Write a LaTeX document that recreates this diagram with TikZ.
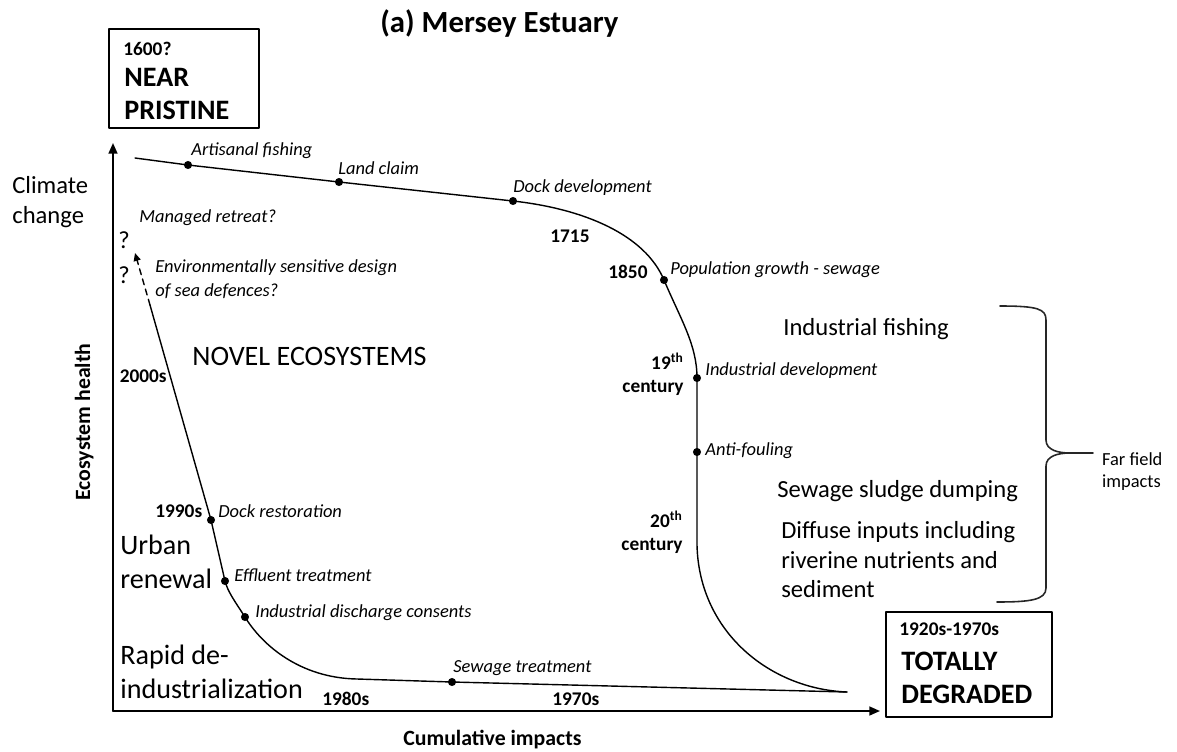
\documentclass[tikz,border=0pt]{standalone}
\usepackage{fontspec}
\setmainfont{Carlito}
\usetikzlibrary{arrows.meta}

\tikzset{
  axis/.style={line width=1pt, -{Triangle[length=6pt,width=5pt]}},
  curve/.style={line width=0.8pt},
  dot/.style={circle, fill, inner sep=0pt, minimum size=4.6pt},
  event/.style={font=\fontsize{10.5}{13.6}\selectfont\itshape, anchor=base west, inner sep=0pt},
  year/.style={font=\fontsize{11}{13}\selectfont\bfseries, anchor=base west, inner sep=0pt},
  phase/.style={font=\fontsize{16}{19.3}\selectfont, align=left, anchor=west, inner sep=0pt},
  impact/.style={font=\fontsize{14}{16.8}\selectfont, align=left, anchor=west, inner sep=0pt},
  statebox/.style={draw, line width=1.5pt, inner sep=0pt},
  statename/.style={font=\fontsize{16}{18.7}\selectfont\bfseries, align=left,
    anchor=north west, inner sep=0pt},
  brace/.style={line width=0.9pt, black!85}
}

\begin{document}
\begin{tikzpicture}[x=0.02cm, y=-0.02cm, line cap=round, line join=round]
  \useasboundingbox (0,0) rectangle (1177,751);

  % Title
  \node[anchor=base west, inner sep=0pt, font=\fontsize{17.5}{21}\selectfont\bfseries]
    (title) at (380,32) {(a) Mersey Estuary};

  % State boxes
  \node[statebox, minimum width=30mm, minimum height=19.8mm] (pristine) at (184,78.5) {};
  \node[year] (pristinedate) at (123,55) {1600?};
  \node[statename] (pristinename) at (124,68) {NEAR\\PRISTINE};
  \node[statebox, minimum width=33.2mm, minimum height=21mm] (degraded) at (969,664.5) {};
  \node[year] (degradeddate) at (899,635) {1920s-1970s};
  \node[statename] (degradedname) at (901,652) {TOTALLY\\DEGRADED};

  % Axes
  \coordinate (origin) at (113,711);
  \coordinate (ytip) at (113,143);
  \coordinate (xtip) at (880,711);
  \draw[axis] (origin) -- (ytip);
  \draw[axis] (origin) -- (xtip);
  \node[rotate=90, anchor=base, inner sep=0pt, font=\fontsize{12.4}{15}\selectfont\bfseries]
    (ylabel) at (90,422) {Ecosystem health};
  \node[anchor=base west, inner sep=0pt, font=\fontsize{12.4}{15}\selectfont\bfseries]
    (xlabel) at (403,745) {Cumulative impacts};

  % Degradation path
  \coordinate (hstart) at (135,158);
  \node[dot] (artisanal) at (188,165) {};
  \node[dot] (landclaim) at (339,182) {};
  \node[dot] (dock) at (513,201) {};
  \node[dot] (popgrowth) at (664,280) {};
  \node[dot] (inddev) at (697,378) {};
  \node[dot] (antifoul) at (697,452) {};
  \coordinate (vend) at (697,545);
  \coordinate (cusp) at (847,692);
  \draw[curve] (hstart) -- (artisanal.center) -- (landclaim.center) -- (dock.center)
    .. controls (585,209) and (645,235) .. (popgrowth.center)
    .. controls (681,320) and (697,345) .. (inddev.center)
    -- (antifoul.center) -- (vend)
    .. controls (699,632) and (770,689) .. (cusp);

  % Recovery path
  \node[dot] (sewtreat) at (452,682) {};
  \coordinate (bend) at (357,679);
  \node[dot] (discharge) at (245,617) {};
  \node[dot] (effluent) at (225,581) {};
  \node[dot] (dockrest) at (211,520) {};
  \coordinate (dashstart) at (150,305);
  \coordinate (dashtip) at (135,253);
  \draw[curve] (cusp) -- (sewtreat.center) -- (bend)
    .. controls (300,678) and (262,645) .. (discharge.center)
    .. controls (234,600) and (228,592) .. (effluent.center)
    -- (dockrest.center) -- (dashstart);
  \draw[curve, dash pattern=on 3.4pt off 2.6pt, -{Triangle[length=4.5pt,width=4pt]}]
    (dashstart) -- (dashtip);

  % Event labels
  \node[event] (lartisanal) at (191,155) {Artisanal fishing};
  \node[event] (llandclaim) at (338,174) {Land claim};
  \node[event] (ldock) at (513,192) {Dock development};
  \node[event] (lpop) at (670,274) {Population growth - sewage};
  \node[event] (linddev) at (705,375) {Industrial development};
  \node[event] (lantifoul) at (705,455) {Anti-fouling};
  \node[event] (lretreat) at (139,222) {Managed retreat?};
  \node[event, anchor=west, align=left]
    (ldefence) at (155,279) {Environmentally sensitive design\\of sea defences?};
  \node[event] (ldockrest) at (218,517) {Dock restoration};
  \node[event] (leffluent) at (234,581) {Effluent treatment};
  \node[event] (ldischarge) at (255,617) {Industrial discharge consents};
  \node[event] (lsewtreat) at (453,672) {Sewage treatment};

  % Dates
  \node[year] (y1715) at (550,242) {1715};
  \node[year] (y1850) at (608,278) {1850};
  \node[year, anchor=east, align=right] (y19c) at (684,374.5) {19\textsuperscript{th}\\century};
  \node[year, anchor=east, align=right] (y20c) at (683,532.5) {20\textsuperscript{th}\\century};
  \node[year, anchor=base east] (y2000) at (167,382) {2000s};
  \node[year] (y1990) at (155,517) {1990s};
  \node[year] (y1980) at (322,705) {1980s};
  \node[year] (y1970) at (552,705) {1970s};

  % Phases
  \node[impact] (climate) at (12,202) {Climate\\change};
  \node[anchor=base west, inner sep=0pt, font=\fontsize{14}{17}\selectfont] (q1) at (118,248) {?};
  \node[anchor=base west, inner sep=0pt, font=\fontsize{14}{17}\selectfont] (q2) at (118,283) {?};
  \node[anchor=base west, inner sep=0pt, font=\fontsize{16}{19}\selectfont] (novel) at (192,365) {NOVEL ECOSYSTEMS};
  \node[phase] (urban) at (120,561.5) {Urban\\renewal};
  \node[phase] (rapid) at (120,672) {Rapid de-\\industrialization};

  % Far field impacts
  \node[impact, anchor=base west] (indfish) at (783,335) {Industrial fishing};
  \node[impact, anchor=base west] (sludge) at (777,497) {Sewage sludge dumping};
  \node[impact] (diffuse) at (781,560)
    {Diffuse inputs including\\riverine nutrients and\\sediment};
  \coordinate (brtop) at (1000,306);
  \coordinate (brtip) at (1070,453);
  \coordinate (brbot) at (997,602);
  \draw[brace] (brtop) .. controls (1038,306) and (1046,309) .. (1046,320)
    -- (1046,440) .. controls (1046,450) and (1058,453) .. (brtip)
    .. controls (1058,453) and (1046,456) .. (1046,466)
    -- (1046,588) .. controls (1046,600) and (1030,602) .. (brbot);
  \node[anchor=west, align=left, inner xsep=5pt, inner ysep=0pt,
    font=\fontsize{10.5}{12.5}\selectfont] (farfield) at (1093,471.5) {Far field\\impacts};
  \draw[brace] (brtip) -- (brtip -| farfield.west);
\end{tikzpicture}
\end{document}
